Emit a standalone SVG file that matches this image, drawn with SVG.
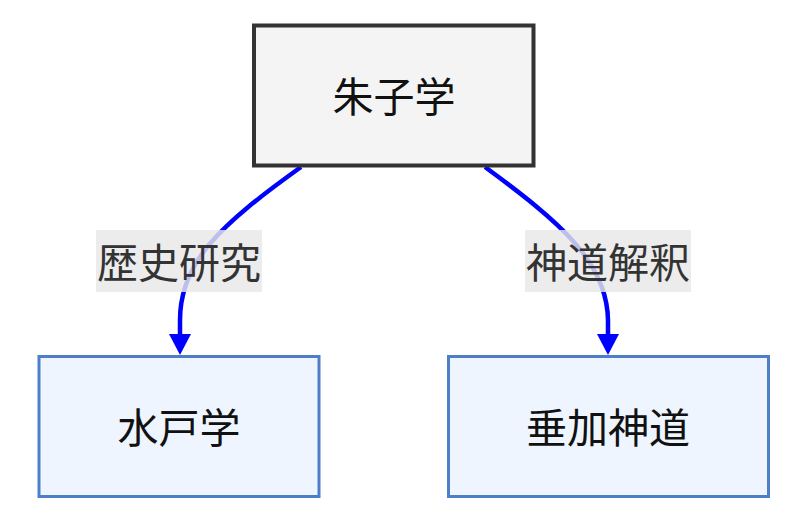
<svg xmlns="http://www.w3.org/2000/svg" width="792" height="523" viewBox="0 0 792 523">
<style>
text{font-family:"Noto Sans CJK JP","Noto Sans CJK SC",sans-serif;font-size:41px;text-anchor:middle;dominant-baseline:central;fill:#111}
.top{fill:#f4f4f4;stroke:#333;stroke-width:4}
.sub{fill:#eef5fe;stroke:#4f7ec8;stroke-width:3}
.edge{fill:none;stroke:#0000ff;stroke-width:4.5}
.lbg{fill:#e8e8e8;fill-opacity:0.82}
.lbl{fill:#333}
</style>
<defs>
<marker id="arr" markerUnits="userSpaceOnUse" markerWidth="24" markerHeight="22" refX="6" refY="11" orient="auto">
<path d="M0,0 L21,11 L0,22 Z" fill="#0000ff"/>
</marker>
</defs>
<rect width="792" height="523" fill="#fff"/>
<g id="edges">
<path class="edge" d="M301,167 C220,225 180,262 180,320 L180,340" marker-end="url(#arr)"/>
<path class="edge" d="M485,167 C560,222 607,262 608,320 L608,340" marker-end="url(#arr)"/>
<g id="label-1"><rect class="lbg" x="96" y="230" width="166" height="62"/><text class="lbl" x="179" y="260">歴史研究</text></g>
<g id="label-2"><rect class="lbg" x="525" y="230" width="166" height="62"/><text class="lbl" x="608" y="260">神道解釈</text></g>
</g>
<g id="node-zhuzi"><rect class="top" x="254" y="25.5" width="279.5" height="140"/><text x="394" y="94">朱子学</text></g>
<g id="node-mito"><rect class="sub" x="39" y="356.5" width="280" height="140"/><text x="179" y="425">水戸学</text></g>
<g id="node-suika"><rect class="sub" x="448.5" y="356.5" width="320" height="140"/><text x="608" y="425">垂加神道</text></g>
</svg>
